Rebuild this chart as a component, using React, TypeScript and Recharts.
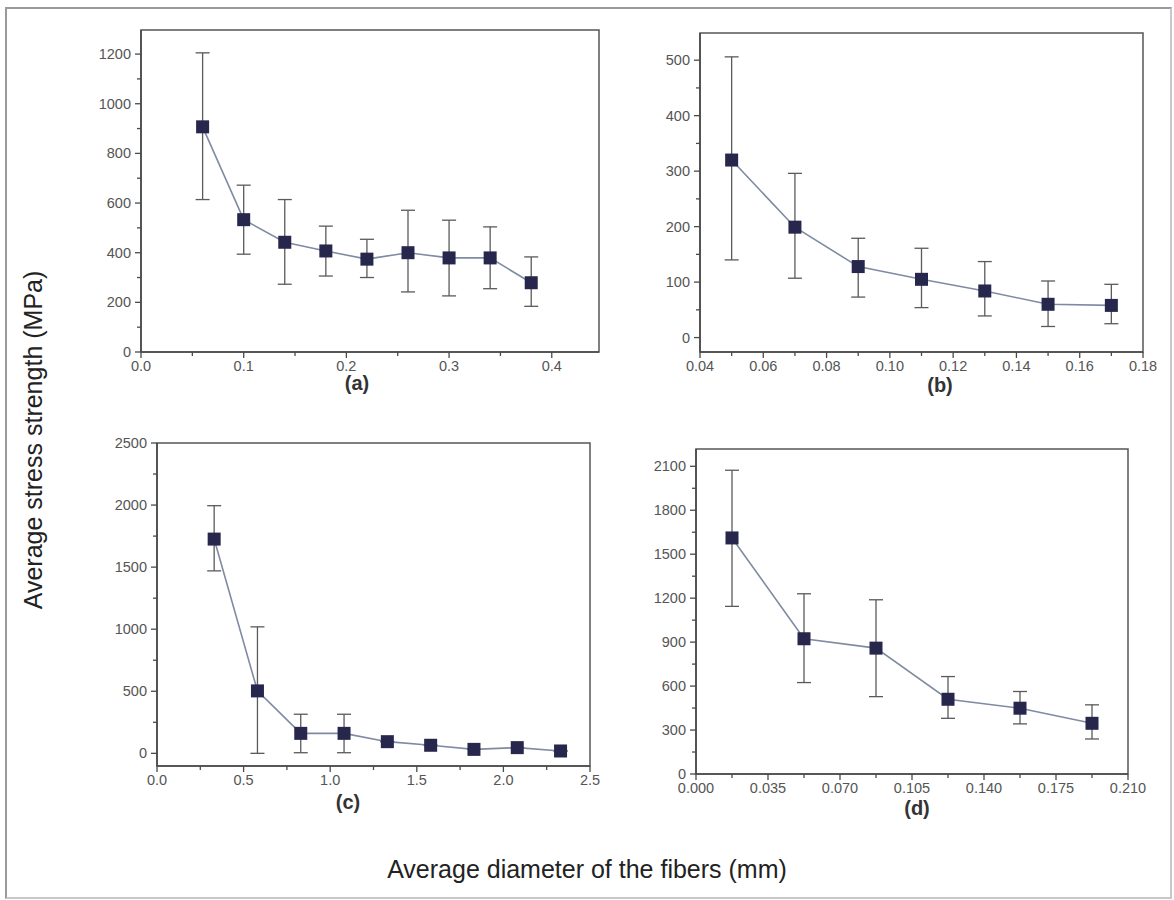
import { LineChart, Line, XAxis, YAxis, ErrorBar, ReferenceArea } from 'recharts'

// panel (a)
const diamA = [0.06, 0.1, 0.14, 0.18, 0.22, 0.26, 0.3, 0.34, 0.38]
const stressA = [907, 533, 442, 407, 374, 400, 379, 379, 279]
const lowA = [614, 394, 273, 306, 300, 242, 226, 255, 184]
const highA = [1205, 672, 614, 507, 454, 571, 531, 504, 383]

// panel (b)
const diamB = [0.05, 0.07, 0.09, 0.11, 0.13, 0.15, 0.17]
const stressB = [320, 199, 128, 105, 84, 60, 58]
const lowB = [140, 107, 73, 54, 39, 20, 25]
const highB = [506, 296, 179, 161, 137, 102, 96]

// panel (c)
const diamC = [0.33, 0.58, 0.83, 1.08, 1.33, 1.58, 1.83, 2.08, 2.33]
const stressC = [1726, 503, 161, 161, 94, 65, 32, 46, 19]
const lowC = [1470, 0, 5, 5, 94, 65, 32, 46, 19]
const highC = [1995, 1019, 315, 315, 94, 65, 32, 46, 19]

// panel (d)
const diamD = [0.0175, 0.0525, 0.0875, 0.1225, 0.1575, 0.1925]
const stressD = [1611, 923, 859, 510, 449, 346]
const lowD = [1144, 624, 528, 380, 342, 239]
const highD = [2073, 1230, 1189, 665, 563, 472]

const xMajorA = [0, 0.1, 0.2, 0.3, 0.4]
const xMinorA = [0.05, 0.15, 0.25, 0.35]
const yMajorA = [0, 200, 400, 600, 800, 1000, 1200]
const yMinorA = [100, 300, 500, 700, 900, 1100]

const xMajorB = [0.04, 0.06, 0.08, 0.1, 0.12, 0.14, 0.16, 0.18]
const xMinorB = [0.05, 0.07, 0.09, 0.11, 0.13, 0.15, 0.17]
const yMajorB = [0, 100, 200, 300, 400, 500]
const yMinorB = [50, 150, 250, 350, 450]

const xMajorC = [0, 0.5, 1, 1.5, 2, 2.5]
const xMinorC = [0.25, 0.75, 1.25, 1.75, 2.25]
const yMajorC = [0, 500, 1000, 1500, 2000, 2500]
const yMinorC = [250, 750, 1250, 1750, 2250]

const xMajorD = [0, 0.035, 0.07, 0.105, 0.14, 0.175, 0.21]
const xMinorD = [0.0175, 0.0525, 0.0875, 0.1225, 0.1575, 0.1925]
const yMajorD = [0, 300, 600, 900, 1200, 1500, 1800, 2100]
const yMinorD = [150, 450, 750, 1050, 1350, 1650, 1950]

const FONT = '"Liberation Sans", Arial, sans-serif'
const AXIS = '#4a4a4a'

const isIn = (list: number[], v: number) => list.some((m) => Math.abs(m - v) < 1e-9)

const XTick = ({ x, y, payload, major, digits }: any) => {
	const big = isIn(major, payload.value)
	return (
		<g>
			<line x1={x} x2={x} y1={y} y2={y + (big ? 6 : 4)} stroke={AXIS} strokeWidth={1.3} />
			{big && (
				<text x={x} y={y + 19} textAnchor="middle" fontSize={14.5} fill="#555" fontFamily={FONT}>
					{payload.value.toFixed(digits)}
				</text>
			)}
		</g>
	)
}

const YTick = ({ x, y, payload, major }: any) => {
	const big = isIn(major, payload.value)
	return (
		<g>
			<line x1={x} x2={x - (big ? 6 : 4)} y1={y} y2={y} stroke={AXIS} strokeWidth={1.3} />
			{big && (
				<text x={x - 10} y={y} dy="0.35em" textAnchor="end" fontSize={14.5} fill="#555" fontFamily={FONT}>
					{payload.value}
				</text>
			)}
		</g>
	)
}

const Square = (p: any) => {
	if (p.cx == null || p.cy == null) return <g key={`s${p.index}`} />
	return <rect key={`s${p.index}`} x={p.cx - 6.5} y={p.cy - 6.5} width={13} height={13} fill="#27274d" />
}

const Panel = ({ box, xs, ys, lo, hi, xDomain, yDomain, xMajor, xMinor, yMajor, yMinor, digits }: any) => {
	const [x0, y0, x1, y1] = box
	const data = xs.map((x: number, i: number) => ({ d: x, s: ys[i], err: [ys[i] - lo[i], hi[i] - ys[i]] }))
	const padL = 70
	const padB = 36
	const padR = 30
	return (
		<div style={{ position: 'absolute', left: x0 - padL, top: y0 - 10 }}>
			<LineChart
				width={x1 - x0 + padL + padR}
				height={y1 - y0 + 10 + padB}
				data={data}
				margin={{ top: 10, right: padR, left: 0, bottom: 0 }}
			>
				<ReferenceArea
					x1={xDomain[0]}
					x2={xDomain[1]}
					y1={yDomain[0]}
					y2={yDomain[1]}
					fill="none"
					stroke="#555"
					strokeWidth={1.5}
					ifOverflow="visible"
				/>
				<XAxis
					type="number"
					dataKey="d"
					domain={xDomain}
					ticks={[...xMajor, ...xMinor].sort((a, b) => a - b)}
					interval={0}
					allowDataOverflow
					height={padB}
					tickSize={0}
					tickMargin={0}
					tickLine={false}
					axisLine={{ stroke: AXIS, strokeWidth: 1.6 }}
					tick={(p: any) => <XTick {...p} major={xMajor} digits={digits} />}
				/>
				<YAxis
					type="number"
					domain={yDomain}
					ticks={[...yMajor, ...yMinor].sort((a, b) => a - b)}
					interval={0}
					allowDataOverflow
					width={padL}
					tickSize={0}
					tickMargin={0}
					tickLine={false}
					axisLine={{ stroke: AXIS, strokeWidth: 1.6 }}
					tick={(p: any) => <YTick {...p} major={yMajor} />}
				/>
				<Line
					dataKey="s"
					stroke="#7f8ba3"
					strokeWidth={1.6}
					dot={Square}
					activeDot={false}
					isAnimationActive={false}
				>
					<ErrorBar dataKey="err" width={7} stroke="#5a5a5a" strokeWidth={1.3} direction="y" />
				</Line>
			</LineChart>
		</div>
	)
}

const tagStyle = (left: number, top: number): any => ({
	position: 'absolute',
	left,
	top,
	fontFamily: FONT,
	fontWeight: 'bold',
	fontSize: 20,
	color: '#333',
	transform: 'translateX(-50%)'
})

const App = () => (
	<div
		style={{
			position: 'absolute',
			left: 0,
			top: 0,
			width: 1174,
			height: 900,
			background: '#fff',
			overflow: 'hidden'
		}}
	>
		<div
			style={{
				position: 'absolute',
				left: 5,
				top: 7,
				width: 1163,
				height: 888,
				border: '2px solid #9a9a9a',
				borderRight: '2px solid #c8c8c8',
				borderBottom: '2px solid #c8c8c8'
			}}
		/>
		<Panel
			box={[141, 30, 599, 352]}
			xs={diamA}
			ys={stressA}
			lo={lowA}
			hi={highA}
			xDomain={[0, 0.446]}
			yDomain={[0, 1297]}
			xMajor={xMajorA}
			xMinor={xMinorA}
			yMajor={yMajorA}
			yMinor={yMinorA}
			digits={1}
		/>
		<Panel
			box={[700, 33, 1143, 352]}
			xs={diamB}
			ys={stressB}
			lo={lowB}
			hi={highB}
			xDomain={[0.04, 0.18]}
			yDomain={[-26, 549]}
			xMajor={xMajorB}
			xMinor={xMinorB}
			yMajor={yMajorB}
			yMinor={yMinorB}
			digits={2}
		/>
		<Panel
			box={[157, 443, 590, 766]}
			xs={diamC}
			ys={stressC}
			lo={lowC}
			hi={highC}
			xDomain={[0, 2.5]}
			yDomain={[-102, 2500]}
			xMajor={xMajorC}
			xMinor={xMinorC}
			yMajor={yMajorC}
			yMinor={yMinorC}
			digits={1}
		/>
		<Panel
			box={[696, 449, 1128, 774]}
			xs={diamD}
			ys={stressD}
			lo={lowD}
			hi={highD}
			xDomain={[0, 0.21]}
			yDomain={[0, 2218]}
			xMajor={xMajorD}
			xMinor={xMinorD}
			yMajor={yMajorD}
			yMinor={yMinorD}
			digits={3}
		/>
		<div style={tagStyle(357, 372)}>(a)</div>
		<div style={tagStyle(940, 374)}>(b)</div>
		<div style={tagStyle(348, 791)}>(c)</div>
		<div style={tagStyle(917, 797)}>(d)</div>
		<div
			style={{
				position: 'absolute',
				left: 0,
				width: 1174,
				top: 855,
				textAlign: 'center',
				fontFamily: FONT,
				fontSize: 25,
				color: '#222'
			}}
		>
			Average diameter of the fibers (mm)
		</div>
		<div
			style={{
				position: 'absolute',
				left: 33,
				top: 440,
				fontFamily: FONT,
				fontSize: 25,
				color: '#222',
				whiteSpace: 'nowrap',
				transform: 'translate(-50%, -50%) rotate(-90deg)'
			}}
		>
			Average stress strength (MPa)
		</div>
	</div>
)

export default App
